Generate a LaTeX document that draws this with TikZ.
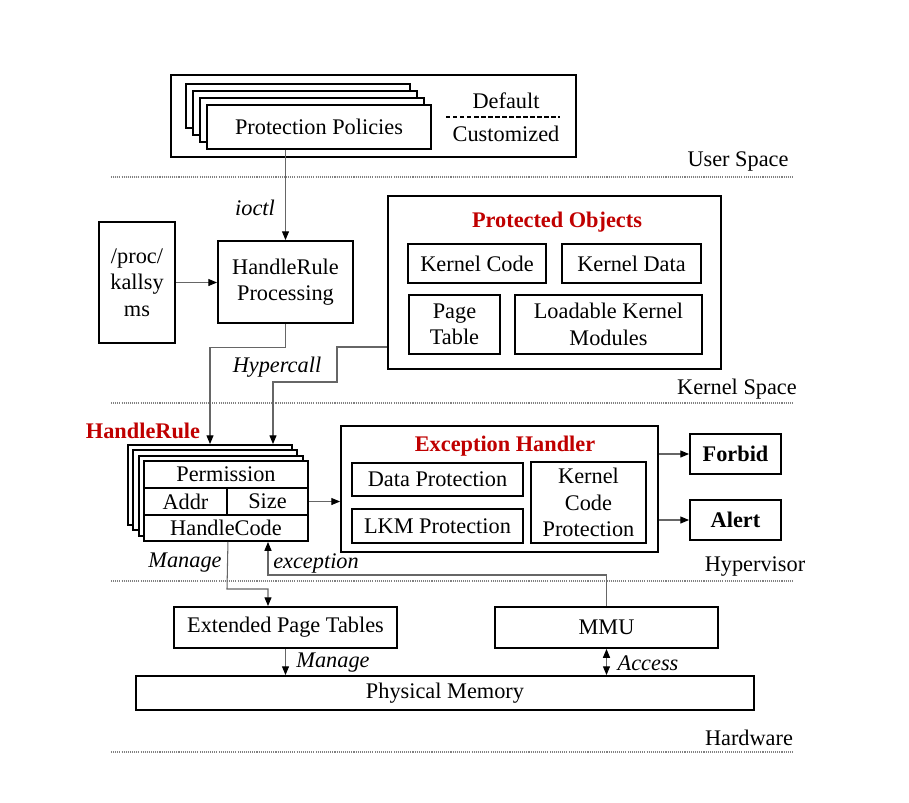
\documentclass[tikz,border=0pt]{standalone}
\usepackage{fontspec}
\setmainfont{Liberation Serif}
\usetikzlibrary{arrows.meta}
\definecolor{titlered}{RGB}{192,0,0}
\newcommand{\figfont}{\fontsize{12.7pt}{15pt}\selectfont}
\tikzstyle{outerbox} = [draw=black, fill=white, line width=1.1pt,
    rectangle, inner sep=0pt, align=center]
\tikzstyle{innerbox} = [draw=black, fill=white, line width=0.8pt,
    rectangle, inner sep=0pt, align=center]
\tikzstyle{conn} = [draw=black!60, line width=0.6pt,
    -{Triangle[length=5pt,width=4pt,color=black]}]
\tikzstyle{dconn} = [draw=black!60, line width=0.6pt,
    {Triangle[length=5pt,width=4pt,color=black]}-{Triangle[length=5pt,width=4pt,color=black]}]
\tikzstyle{sepline} = [draw=black!50, dash pattern=on 0.6pt off 0.6pt, line width=0.6pt]
\tikzstyle{fancytitle} = [text=titlered, font=\figfont\bfseries]
\tikzstyle{edgelabel} = [font=\figfont\itshape]

\begin{document}
\begin{tikzpicture}[x=0.02cm, y=-0.02cm, font=\figfont]
    \useasboundingbox (0,0) rectangle (909,802);

    % layer separators
    \foreach \ly in {177,403,581,752}
        \draw[sepline] (111,\ly) -- (794,\ly);
    \node (lus) at (738,161) {User Space};
    \node (lks) at (737,389) {Kernel Space};
    \node (lhv) at (755,567) {Hypervisor};
    \node (lhw) at (749,738) {Hardware};

    % user space
    \node[outerbox, minimum width=8.10cm, minimum height=1.64cm] (user) at (373.5,116) {};
    \foreach \i in {3,2,1}
        \node[outerbox, minimum width=4.48cm, minimum height=0.88cm] (pp\i) at ({319-7*\i},{127-7*\i}) {};
    \node[outerbox, minimum width=4.48cm, minimum height=0.88cm] (pp) at (319,127) {Protection Policies};
    \node (dflt) at (506,101) {Default};
    \node (cust) at (506,134) {Customized};
    \draw[line width=1pt, dash pattern=on 2.5pt off 1.5pt] (446,117) -- (560,117);

    % kernel space
    \node[outerbox, minimum width=1.52cm, minimum height=2.42cm] (ks) at (137,282.5) {/proc/\\kallsy\\ms};
    \node[outerbox, minimum width=2.70cm, minimum height=1.64cm] (hrp) at (285.5,282) {HandleRule\\Processing};
    \node[outerbox, minimum width=6.66cm, minimum height=3.46cm] (po) at (554.5,282.5) {};
    \node[fancytitle] (pot) at (557,222) {Protected Objects};
    \node[innerbox, minimum width=2.76cm, minimum height=0.78cm] (kc) at (477,263.5) {Kernel Code};
    \node[innerbox, minimum width=2.78cm, minimum height=0.78cm] (kd) at (631.5,263.5) {Kernel Data};
    \node[innerbox, minimum width=1.82cm, minimum height=1.18cm] (pt) at (454.5,324.5) {Page\\Table};
    \node[innerbox, minimum width=3.74cm, minimum height=1.18cm] (lkm) at (608.5,324.5) {Loadable Kernel\\Modules};

    \draw[conn] (pp.south -| hrp.north) -- (hrp.north);
    \node[edgelabel] (ioctl) at (255,208) {ioctl};
    \draw[conn] (ks.east) -- (ks.east -| hrp.west);

    % hypervisor
    \node[fancytitle] (hrt) at (143,431) {HandleRule};
    \foreach \i in {3,2,1}
        \node[outerbox, minimum width=3.28cm, minimum height=1.60cm] (hrb\i) at ({226-5.33*\i},{501-5.33*\i}) {};
    \node[outerbox, minimum width=3.28cm, minimum height=0.54cm] (perm) at (226,474.5) {Permission};
    \node[outerbox, minimum width=1.66cm, minimum height=0.54cm] (addr) at (185.5,501.5) {Addr};
    \node[outerbox, minimum width=1.62cm, minimum height=0.54cm] (size) at (267.5,501.5) {Size};
    \node[outerbox, minimum width=3.28cm, minimum height=0.52cm] (hcode) at (226,528) {HandleCode};

    \draw[conn] (hrp.south) -- ++(0,24) -| (hrb3.north);
    \draw[conn] ([yshift=-1.29cm]po.west) -| (337,382) -| ([xshift=1.26cm]hrb3.north);
    \node[edgelabel] (hyper) at (277,367) {Hypercall};

    \node[outerbox, minimum width=6.34cm, minimum height=2.52cm] (exc) at (499.5,489) {};
    \node[fancytitle] (exct) at (505,446) {Exception Handler};
    \node[innerbox, minimum width=3.42cm, minimum height=0.66cm] (dp) at (437.5,479.5) {Data Protection};
    \node[innerbox, minimum width=3.42cm, minimum height=0.68cm] (lp) at (437.5,526) {LKM Protection};
    \node[innerbox, minimum width=2.30cm, minimum height=1.62cm] (kcp) at (588.5,502.5) {Kernel\\Code\\Protection};
    \node[outerbox, minimum width=1.82cm, minimum height=0.80cm, font=\figfont\bfseries] (forbid) at (735.5,454) {Forbid};
    \node[outerbox, minimum width=1.82cm, minimum height=0.80cm, font=\figfont\bfseries] (alert) at (735.5,520) {Alert};

    \draw[conn] (size.east) -- (size.east -| exc.west);
    \draw[conn] (exc.east |- forbid.west) -- (forbid.west);
    \draw[conn] (exc.east |- alert.west) -- (alert.west);

    % hardware
    \node[outerbox, minimum width=4.46cm, minimum height=0.82cm] (ept) at (285.5,627.5) {Extended Page Tables};
    \node[outerbox, minimum width=4.46cm, minimum height=0.82cm] (mmu) at (606.5,627.5) {MMU};
    \node[outerbox, minimum width=12.36cm, minimum height=0.68cm] (pm) at (445,693) {Physical Memory};

    \draw[conn] (addr.east |- hcode.south) -- (227,589) -| ([xshift=-0.35cm]ept.north);
    \node[edgelabel] (mng1) at (185,563) {Manage};
    \draw[conn] (mmu.north) -- (606.5,575) -| ([xshift=0.84cm]hcode.south);
    \node[edgelabel] (excl) at (316,563) {exception};
    \draw[conn] (ept.south) -- (ept.south |- pm.north);
    \node[edgelabel] (mng2) at (333,663) {Manage};
    \draw[dconn] (mmu.south) -- (mmu.south |- pm.north);
    \node[edgelabel] (acc) at (648,663) {Access};
\end{tikzpicture}
\end{document}
